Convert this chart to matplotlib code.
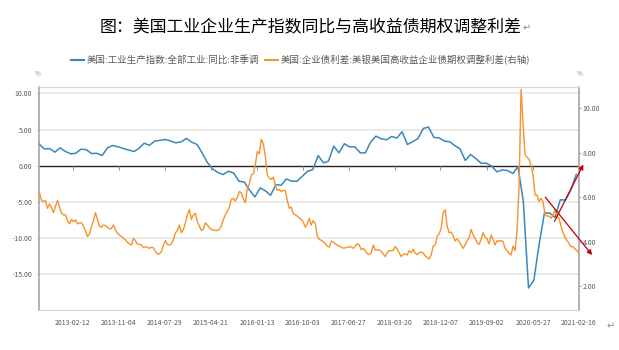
import numpy as np
import pandas as pd
import matplotlib
matplotlib.use("Agg")
import matplotlib.pyplot as plt
import matplotlib.dates as mdates
from matplotlib.lines import Line2D
from matplotlib.ticker import FormatStrFormatter

plt.rcParams["font.family"] = ["Noto Sans CJK SC", "DejaVu Sans"]
plt.rcParams["axes.unicode_minus"] = False

title = "图：美国工业企业生产指数同比与高收益债期权调整利差"
ip_label = "美国:工业生产指数:全部工业:同比:非季调"
oas_label = "美国:企业债利差:美银美国高收益企业债期权调整利差(右轴)"

# Monthly industrial production, YoY %, from 2012-07 (month-end)
ip_start = "2012-07-01"
ip_yoy = [
    3.0, 2.3, 2.35, 1.86, 2.46, 1.95, 1.62, 1.7, 2.27, 2.2,
    1.67, 1.7, 1.39, 2.46, 2.78, 2.6, 2.37, 2.15, 1.95, 2.37,
    3.1, 2.8, 3.39, 3.5, 3.62, 3.4, 3.15, 3.3, 3.76, 3.25,
    2.92, 1.8, 0.45, -0.45, -0.95, -1.25, -0.8, -1.05, -2.18, -2.3,
    -3.4, -4.36, -3.1, -3.5, -4.13, -2.65, -2.74, -1.86, -2.18, -2.18,
    -1.49, -0.8, -0.56, 1.39, 0.37, 0.6, 2.69, 1.76, 3.02, 2.6,
    2.6, 1.76, 1.76, 3.3, 4.08, 3.7, 3.57, 4.04, 3.81, 4.69,
    2.92, 3.3, 3.76, 5.15, 5.34, 3.9, 3.85, 3.39, 3.3, 2.78,
    2.32, 0.7, 1.53, 0.97, 0.32, 0.32, -0.09, -0.88, -0.6, -0.7,
    -1.1, -0.14, -4.97, -17.0, -15.9, -11.0, -6.59, -6.59, -7.2, -4.74,
    -4.8, -3.34, -1.25,
]

# High-yield option-adjusted spread, %, evenly sampled over the window
oas_start, oas_end = "2012-08-03", "2021-02-16"
hy_oas = [
    6.2, 5.85, 5.8, 5.85, 5.5, 5.7, 5.53, 5.3, 5.6, 5.85,
    5.55, 5.3, 5.2, 5.2, 4.95, 4.8, 5.0, 4.9, 4.98, 4.8,
    4.85, 4.85, 4.7, 4.5, 4.23, 4.35, 4.68, 4.95, 5.3, 5.0,
    4.7, 4.65, 4.75, 4.72, 4.66, 4.57, 4.6, 4.75, 4.53, 4.38,
    4.3, 4.23, 4.15, 4.08, 3.97, 3.9, 3.85, 4.15, 4.05, 3.88,
    3.88, 3.85, 3.73, 3.77, 3.75, 3.7, 3.75, 3.72, 3.55, 3.45,
    3.45, 3.55, 3.85, 4.05, 3.87, 3.85, 3.9, 4.08, 4.4, 4.5,
    4.75, 4.4, 4.55, 4.83, 5.2, 5.45, 5.0, 5.2, 5.28, 4.9,
    4.7, 4.5, 4.55, 4.85, 4.75, 4.62, 4.55, 4.52, 4.5, 4.5,
    4.56, 4.72, 5.0, 5.2, 5.37, 5.55, 5.9, 5.95, 5.82, 6.0,
    6.25, 6.2, 5.92, 5.75, 6.38, 6.6, 7.0, 7.05, 7.45, 8.05,
    7.95, 8.6, 8.4, 7.85, 7.0, 6.85, 6.8, 6.9, 6.55, 6.3,
    6.35, 6.25, 6.3, 6.3, 5.85, 5.5, 5.55, 5.27, 5.2, 5.15,
    5.07, 5.0, 4.88, 4.65, 4.8, 5.05, 4.75, 4.95, 4.8, 4.25,
    4.1, 4.06, 4.0, 3.92, 3.8, 3.75, 4.02, 3.98, 3.9, 3.85,
    3.8, 3.76, 3.71, 3.72, 3.75, 3.77, 3.76, 3.7, 3.8, 3.9,
    3.85, 3.65, 3.69, 3.6, 3.47, 3.42, 3.5, 3.85, 3.63, 3.63,
    3.62, 3.57, 3.45, 3.33, 3.5, 3.6, 3.6, 3.6, 3.78, 3.67,
    3.5, 3.33, 3.42, 3.45, 3.4, 3.6, 3.5, 3.65, 3.48, 3.42,
    3.5, 3.53, 3.5, 3.36, 3.3, 3.22, 3.4, 3.8, 3.85, 4.24,
    4.35, 4.6, 5.3, 5.43, 4.7, 4.4, 4.43, 4.27, 4.03, 4.13,
    4.0, 3.85, 3.7, 3.85, 4.05, 4.18, 4.55, 4.3, 4.15, 3.95,
    3.88, 4.1, 4.4, 4.2, 4.12, 3.9, 4.3, 4.1, 3.85, 4.05,
    4.02, 4.05, 4.0, 3.7, 3.6, 3.48, 3.4, 3.8, 3.6, 4.5,
    6.5, 10.84, 9.3, 7.9, 7.8, 7.7, 7.4, 7.0, 6.1, 6.1,
    5.8, 5.95, 5.8, 5.2, 5.15, 5.15, 5.05, 5.2, 5.45, 5.1,
    5.05, 4.7, 4.4, 4.2, 4.05, 3.92, 3.77, 3.78, 3.67, 3.6,
    3.45,
]

tick_dates = [
    "2013-02-12", "2013-11-04", "2014-07-29", "2015-04-21", "2016-01-13",
    "2016-10-03", "2017-06-27", "2018-03-20", "2018-12-07", "2019-09-02",
    "2020-05-27", "2021-02-16",
]
left_ticks = [-15, -10, -5, 0, 5, 10]
right_ticks = [2, 4, 6, 8, 10]

# Trend arrows: (start date, start value) -> (end date, end value)
oas_trend = (("2020-08-05", 6.0), ("2021-05-03", 3.4))
ip_trend = (("2020-09-27", -7.76), ("2021-03-13", 0.14))

BLUE = "#3a88b8"
ORANGE = "#f8922a"
TEXT = "#595959"
AXIS = "#a6a6a6"
GRID = "#e6e6e6"
RED = "#c00000"

ip_dates = pd.date_range(ip_start, periods=len(ip_yoy), freq="MS") + pd.offsets.MonthEnd(0)
oas_dates = pd.date_range(oas_start, oas_end, periods=len(hy_oas))
ticks = pd.to_datetime(tick_dates)

fig = plt.figure(figsize=(6.19, 3.5), dpi=100)
ax = fig.add_axes([0.0630, 0.1143, 0.8724, 0.6371])
ax2 = ax.twinx()

ax.set_xlim(pd.Timestamp("2012-07-31"), pd.Timestamp("2021-02-16"))
ax.set_ylim(-20.05, 10.9)
ax2.set_ylim(0.93, 10.95)

# grid on the left scale, dark zero line with date ticks hanging from it
for v in left_ticks:
    if v != 0:
        ax.axhline(v, color=GRID, lw=1.1, zorder=0)
ax.axhline(0, color="#2a2222", lw=1.0, zorder=2)
ax.plot(ticks, np.zeros(len(ticks)), ls="none", marker=3, ms=2.6,
        mew=0.7, color="#8c8c8c", zorder=2)

ax.plot(ip_dates, ip_yoy, color=BLUE, lw=1.1, zorder=3)
ax2.plot(oas_dates, hy_oas, color=ORANGE, lw=1.0, zorder=3)

# spines
for a in (ax, ax2):
    a.spines["top"].set_color("#d9d9d9")
    a.spines["top"].set_linewidth(0.8)
    a.spines["bottom"].set_color("#d9d9d9")
    a.spines["bottom"].set_linewidth(0.8)
ax.spines["right"].set_visible(False)
ax.spines["left"].set_color(AXIS)
ax.spines["left"].set_linewidth(1.2)
ax2.spines["left"].set_visible(False)
ax2.spines["right"].set_color(AXIS)
ax2.spines["right"].set_linewidth(1.2)

ax.set_yticks(left_ticks)
ax.yaxis.set_major_formatter(FormatStrFormatter("%.2f"))
ax.tick_params(axis="y", length=1.6, width=0.8, color=AXIS, pad=3.4,
               labelsize=5, labelcolor=TEXT)
ax2.set_yticks(right_ticks)
ax2.yaxis.set_major_formatter(FormatStrFormatter("%.2f"))
ax2.tick_params(axis="y", length=1.6, width=0.8, color=AXIS, pad=1.0,
                labelsize=5, labelcolor=TEXT)

ax.set_xticks(ticks)
ax.xaxis.set_major_formatter(mdates.DateFormatter("%Y-%m-%d"))
ax.tick_params(axis="x", length=0, pad=6.6, labelsize=5, labelcolor=TEXT)

# trend arrows
arrow_kw = dict(arrowstyle="-|>", color=RED, lw=0.9, mutation_scale=7,
                shrinkA=0, shrinkB=0)
(s_d, s_v), (e_d, e_v) = oas_trend
ax2.annotate("", xy=(mdates.date2num(pd.Timestamp(e_d)), e_v),
             xytext=(mdates.date2num(pd.Timestamp(s_d)), s_v),
             xycoords=ax2.transData, textcoords=ax2.transData,
             arrowprops=arrow_kw, annotation_clip=False, zorder=5)
(s_d, s_v), (e_d, e_v) = ip_trend
ax2.annotate("", xy=(mdates.date2num(pd.Timestamp(e_d)), e_v),
             xytext=(mdates.date2num(pd.Timestamp(s_d)), s_v),
             xycoords=ax.transData, textcoords=ax.transData,
             arrowprops=arrow_kw, annotation_clip=False, zorder=5)

# title, legend, unit labels
fig.text(0.5016, 0.921, title, ha="center", va="center", fontsize=12.2, color="black")
fig.text(527 / 619, 1 - 28 / 350, "↵", ha="center", va="center", fontsize=7, color="#8c8c8c")
fig.text(611 / 619, 1 - 326 / 350, "↵", ha="center", va="center", fontsize=7, color="#8c8c8c")

handles = [Line2D([], [], color=BLUE, lw=1.5), Line2D([], [], color=ORANGE, lw=1.5)]
fig.legend(handles, [ip_label, oas_label], loc="center", bbox_to_anchor=(0.4855, 0.8286),
           ncol=2, frameon=False, fontsize=6.8, handlelength=1.4, handletextpad=0.3,
           columnspacing=0.6, labelcolor=TEXT)

fig.text(38 / 619, 1 - 74 / 350, "%", ha="center", va="center", fontsize=4.5, color="#8c8c8c")
fig.text(580 / 619, 1 - 74 / 350, "%", ha="center", va="center", fontsize=4.5, color="#8c8c8c")

fig.savefig("out.png", dpi=100)
